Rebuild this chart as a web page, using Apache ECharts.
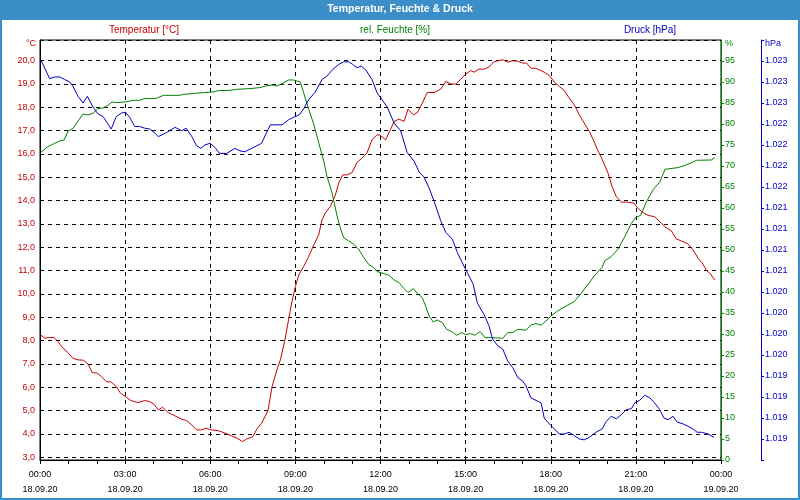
<!DOCTYPE html>
<html>
<head>
<meta charset="utf-8">
<script src="https://cdn.jsdelivr.net/npm/echarts@6/dist/echarts.min.js"></script>
<style>
html,body{margin:0;padding:0;background:#fff;}
#c{width:800px;height:500px;}
</style>
</head>
<body>
<div id="c"></div>
<script>
// ---- data (hours since 18.09.20 00:00) ----
const tempTimes = [0.02,0.17,0.34,0.49,0.63,0.81,0.99,1.16,1.34,1.52,1.69,1.84,2.02,2.16,2.34,2.51,2.69,2.84,3.01,3.20,3.45,3.69,3.87,4.02,4.17,4.32,4.52,4.76,4.99,5.17,5.35,5.52,5.70,5.85,6.05,6.28,6.52,6.76,6.95,7.14,7.28,7.50,7.66,7.81,7.96,8.04,8.18,8.35,8.47,8.62,8.76,8.88,9.00,9.12,9.29,9.47,9.65,9.82,9.94,10.05,10.23,10.41,10.53,10.67,10.82,11.00,11.17,11.35,11.52,11.70,11.88,11.98,12.18,12.36,12.48,12.65,12.83,12.97,13.16,13.30,13.47,13.65,13.89,14.12,14.30,14.47,14.65,14.83,15.00,15.18,15.29,15.47,15.65,15.82,15.98,16.13,16.33,16.48,16.66,16.84,17.01,17.15,17.30,17.46,17.60,17.77,17.95,18.13,18.30,18.48,18.65,18.83,19.01,19.18,19.36,19.50,19.65,19.81,20.02,20.16,20.31,20.49,20.72,20.93,21.07,21.25,21.43,21.66,21.84,22.02,22.25,22.42,22.66,22.84,23.01,23.19,23.33,23.48,23.62,23.78];
const tempValues = [8.24,8.10,8.13,8.13,7.96,7.67,7.48,7.24,7.17,7.16,7.00,6.63,6.60,6.46,6.24,6.22,6.03,5.74,5.60,5.43,5.34,5.43,5.38,5.27,5.03,5.14,4.91,4.77,4.63,4.57,4.38,4.17,4.17,4.24,4.17,4.14,4.03,3.91,3.81,3.67,3.78,3.88,4.24,4.46,4.81,5.03,6.03,6.74,7.17,7.96,8.89,9.67,10.31,10.81,11.17,11.60,12.10,12.53,13.17,13.46,13.74,14.24,14.75,15.10,15.10,15.20,15.63,15.82,16.03,16.60,16.82,16.80,16.60,17.06,17.39,17.49,17.39,17.92,17.67,17.77,18.17,18.63,18.63,18.77,19.10,19.00,18.99,19.20,19.42,19.57,19.50,19.63,19.63,19.72,19.93,19.99,20.03,19.93,19.99,19.97,19.89,19.89,19.67,19.67,19.60,19.50,19.36,19.07,18.89,18.71,18.39,18.10,17.67,17.32,16.96,16.60,16.17,15.77,15.17,14.60,14.17,13.93,13.93,13.89,13.67,13.49,13.36,13.31,13.10,12.88,12.70,12.36,12.24,12.14,11.89,11.53,11.34,11.03,10.86,10.60];

const humTimes = [0.02,0.28,0.52,0.69,0.85,0.99,1.16,1.34,1.52,1.69,1.87,2.04,2.22,2.40,2.54,2.69,2.99,3.28,3.51,3.67,4.02,4.11,4.35,4.93,5.05,5.40,5.76,6.11,6.28,6.70,6.93,7.40,7.75,7.96,8.18,8.35,8.53,8.76,8.94,9.17,9.29,9.47,9.65,9.82,10.00,10.11,10.29,10.47,10.58,10.70,10.88,11.06,11.23,11.41,11.58,11.76,11.88,12.12,12.30,12.48,12.65,12.83,12.97,13.16,13.30,13.47,13.59,13.71,13.86,14.00,14.18,14.33,14.53,14.69,14.85,15.00,15.18,15.32,15.51,15.68,15.86,16.31,16.48,16.66,16.84,17.13,17.30,17.48,17.66,17.83,18.01,18.24,18.54,18.83,19.07,19.30,19.53,19.81,19.90,20.13,20.37,20.61,20.84,20.98,21.17,21.37,21.60,21.84,22.03,22.48,22.67,22.97,23.13,23.66,23.78];
const humValues = [73.19,74.62,75.40,75.95,76.19,78.33,78.90,80.71,82.38,82.14,82.55,83.67,83.81,84.45,85.24,85.10,85.24,85.64,85.64,86.05,86.05,86.12,86.83,86.83,87.07,87.24,87.48,87.62,87.95,88.02,88.26,88.43,88.67,89.05,89.29,89.05,89.62,90.48,90.48,90.00,87.48,83.50,79.93,75.57,71.19,67.62,63.67,58.10,55.33,52.95,52.14,51.36,50.17,48.19,46.60,45.81,44.86,44.38,43.98,42.86,42.24,40.81,39.86,40.81,39.69,38.67,36.67,34.29,32.86,33.33,32.71,31.12,30.48,29.69,30.33,29.86,30.10,29.69,30.57,29.14,29.14,28.98,30.33,30.33,31.12,30.88,32.14,32.48,32.07,33.10,34.29,35.48,36.67,37.71,39.69,41.67,43.81,45.88,47.38,48.43,50.17,53.19,56.29,57.71,58.26,61.43,64.29,66.19,69.21,69.62,70.00,70.81,71.36,71.43,72.00];

const pressTimes = [0.02,0.34,0.52,0.69,0.87,1.05,1.16,1.34,1.52,1.67,1.87,2.04,2.22,2.51,2.69,2.87,3.01,3.16,3.34,3.51,3.69,3.87,4.02,4.17,4.47,4.76,4.99,5.15,5.35,5.52,5.67,5.81,5.99,6.17,6.32,6.58,6.87,7.05,7.22,7.40,7.64,7.81,7.96,8.12,8.53,8.76,8.94,9.14,9.29,9.47,9.70,9.94,10.11,10.32,10.53,10.70,10.88,11.02,11.17,11.32,11.49,11.70,11.88,12.01,12.24,12.48,12.71,12.94,13.18,13.36,13.53,13.71,13.89,14.12,14.30,14.53,14.71,14.88,15.06,15.27,15.41,15.65,15.82,15.95,16.13,16.31,16.48,16.66,16.84,17.01,17.13,17.30,17.48,17.66,17.77,17.89,18.07,18.30,18.48,18.65,18.83,19.01,19.18,19.36,19.59,19.81,19.96,20.13,20.31,20.49,20.66,20.84,20.96,21.13,21.31,21.49,21.66,21.84,21.99,22.13,22.31,22.46,22.66,22.84,23.01,23.16,23.31,23.54,23.75];
const pressValues = [1023.52,1023.29,1023.31,1023.31,1023.28,1023.25,1023.20,1023.08,1023.00,1023.08,1022.95,1022.87,1022.84,1022.69,1022.84,1022.88,1022.89,1022.83,1022.72,1022.72,1022.70,1022.69,1022.65,1022.60,1022.65,1022.71,1022.67,1022.70,1022.60,1022.49,1022.46,1022.50,1022.52,1022.47,1022.40,1022.40,1022.46,1022.43,1022.42,1022.45,1022.49,1022.52,1022.63,1022.74,1022.74,1022.80,1022.83,1022.86,1022.93,1023.04,1023.13,1023.28,1023.32,1023.40,1023.46,1023.49,1023.49,1023.46,1023.42,1023.44,1023.39,1023.28,1023.12,1023.06,1022.95,1022.76,1022.67,1022.41,1022.31,1022.18,1022.12,1021.99,1021.83,1021.60,1021.46,1021.38,1021.22,1021.10,1020.98,1020.84,1020.62,1020.48,1020.35,1020.19,1020.11,1020.07,1019.93,1019.85,1019.73,1019.69,1019.63,1019.49,1019.46,1019.43,1019.25,1019.20,1019.14,1019.06,1019.06,1019.08,1019.04,1019.00,1018.99,1019.02,1019.08,1019.12,1019.21,1019.27,1019.24,1019.29,1019.35,1019.36,1019.43,1019.46,1019.52,1019.49,1019.43,1019.35,1019.25,1019.23,1019.27,1019.20,1019.18,1019.15,1019.12,1019.08,1019.08,1019.06,1019.02];

const dateLabels = ['18.09.20', '19.09.20'];
const titleText = 'Temperatur, Feuchte & Druck';
const seriesNames = ['Temperatur [°C]', 'rel. Feuchte [%]', 'Druck [hPa]'];
const unitLabels = ['°C', '%', 'hPa'];

function zip(t, v) {
  const n = Math.min(t.length, v.length), out = [];
  for (let i = 0; i < n; i++) out.push([t[i], v[i]]);
  return out;
}

const FONT = '"Liberation Sans", Arial, sans-serif';
const RED = '#c80000', GREEN = '#008000', BLUE = '#0000c8', FRAME = '#3c8ec8';

const chart = echarts.init(document.getElementById('c'), null, {renderer: 'canvas'});
chart.setOption({
  animation: false,
  backgroundColor: '#ffffff',
  textStyle: {fontFamily: FONT},
  grid: {left: 40, top: 40, width: 681, height: 420, show: true, backgroundColor: '#ffffff', borderColor: '#000', borderWidth: 1},
  xAxis: {
    type: 'value', min: 0, max: 24, interval: 3,
    axisLine: {lineStyle: {color: '#000', width: 1}},
    axisTick: {show: true, length: 4, lineStyle: {color: '#000'}},
    minorTick: {show: true, splitNumber: 3, length: 4, lineStyle: {color: '#000'}},
    splitLine: {show: true, lineStyle: {color: '#000', type: [4, 4], width: 1}},
    axisLabel: {
      color: '#000', fontSize: 9, fontFamily: FONT, margin: 7, lineHeight: 15,
      formatter: function (v) {
        const h = Math.round(v) % 24;
        const d = v >= 24 ? dateLabels[1] : dateLabels[0];
        return (h < 10 ? '0' : '') + h + ':00\n' + d;
      }
    }
  },
  yAxis: [
    {
      type: 'value', position: 'left', min: 2.88, max: 20.88, minInterval: 1, maxInterval: 1,
      axisLine: {show: true, lineStyle: {color: '#000', width: 1}},
      axisTick: {show: false},
      splitLine: {show: true, lineStyle: {color: '#000', type: [4, 4], width: 1}},
      axisLabel: {
        color: RED, fontSize: 9, fontFamily: FONT, margin: 5,
        formatter: function (v) {
          if (Math.abs(v - Math.round(v)) > 0.01) return '';
          return v.toFixed(1).replace('.', ',');
        }
      }
    },
    {
      type: 'value', position: 'right', offset: 0, min: 0, max: 100, interval: 5,
      axisLine: {show: true, lineStyle: {color: GREEN, width: 1}},
      axisTick: {show: true, length: 3, lineStyle: {color: GREEN}},
      splitLine: {show: false},
      axisLabel: {
        color: GREEN, fontSize: 9, fontFamily: FONT, margin: 4, showMaxLabel: false,
        formatter: function (v) { return v >= 100 ? '' : String(v); }
      }
    },
    {
      type: 'value', position: 'right', offset: 40, min: 1018.75, max: 1023.75, interval: 0.25,
      axisLine: {show: true, lineStyle: {color: BLUE, width: 1}},
      axisTick: {show: true, length: 3, lineStyle: {color: BLUE}},
      splitLine: {show: false},
      axisLabel: {
        color: BLUE, fontSize: 9, fontFamily: FONT, margin: 4,
        formatter: function (v) {
          if (v < 1018.9 || v > 1023.6) return '';
          const i = Math.floor(v + 1e-6) - 1000;
          return '1.' + String(i).padStart(3, '0');
        }
      }
    }
  ],
  series: [
    {name: seriesNames[0], type: 'line', yAxisIndex: 0, data: zip(tempTimes, tempValues), showSymbol: false, lineStyle: {color: RED, width: 1}, itemStyle: {color: RED}},
    {name: seriesNames[1], type: 'line', yAxisIndex: 1, data: zip(humTimes, humValues), showSymbol: false, lineStyle: {color: GREEN, width: 1}, itemStyle: {color: GREEN}},
    {name: seriesNames[2], type: 'line', yAxisIndex: 2, data: zip(pressTimes, pressValues), showSymbol: false, lineStyle: {color: BLUE, width: 1}, itemStyle: {color: BLUE}}
  ],
  graphic: [
    {type: 'rect', shape: {x: 0, y: 0, width: 800, height: 20}, style: {fill: FRAME}, silent: true},
    {type: 'rect', shape: {x: 1, y: 1, width: 798, height: 498}, style: {fill: null, stroke: FRAME, lineWidth: 2}, silent: true},
    {type: 'text', x: 400, y: 9, style: {text: titleText, fill: '#fff', font: 'bold 10.5px ' + FONT, textAlign: 'center', textVerticalAlign: 'middle'}, silent: true},
    {type: 'text', x: 144, y: 30, style: {text: seriesNames[0], fill: RED, font: '10px ' + FONT, textAlign: 'center', textVerticalAlign: 'middle'}, silent: true},
    {type: 'text', x: 395, y: 30, style: {text: seriesNames[1], fill: GREEN, font: '10px ' + FONT, textAlign: 'center', textVerticalAlign: 'middle'}, silent: true},
    {type: 'text', x: 650, y: 30, style: {text: seriesNames[2], fill: BLUE, font: '10px ' + FONT, textAlign: 'center', textVerticalAlign: 'middle'}, silent: true},
    {type: 'text', x: 36, y: 44, style: {text: unitLabels[0], fill: RED, font: '9px ' + FONT, textAlign: 'right', textVerticalAlign: 'middle'}, silent: true},
    {type: 'text', x: 725, y: 44, style: {text: unitLabels[1], fill: GREEN, font: '9px ' + FONT, textAlign: 'left', textVerticalAlign: 'middle'}, silent: true},
    {type: 'text', x: 765, y: 44, style: {text: unitLabels[2], fill: BLUE, font: '9px ' + FONT, textAlign: 'left', textVerticalAlign: 'middle'}, silent: true}
  ]
});
</script>
</body>
</html>
